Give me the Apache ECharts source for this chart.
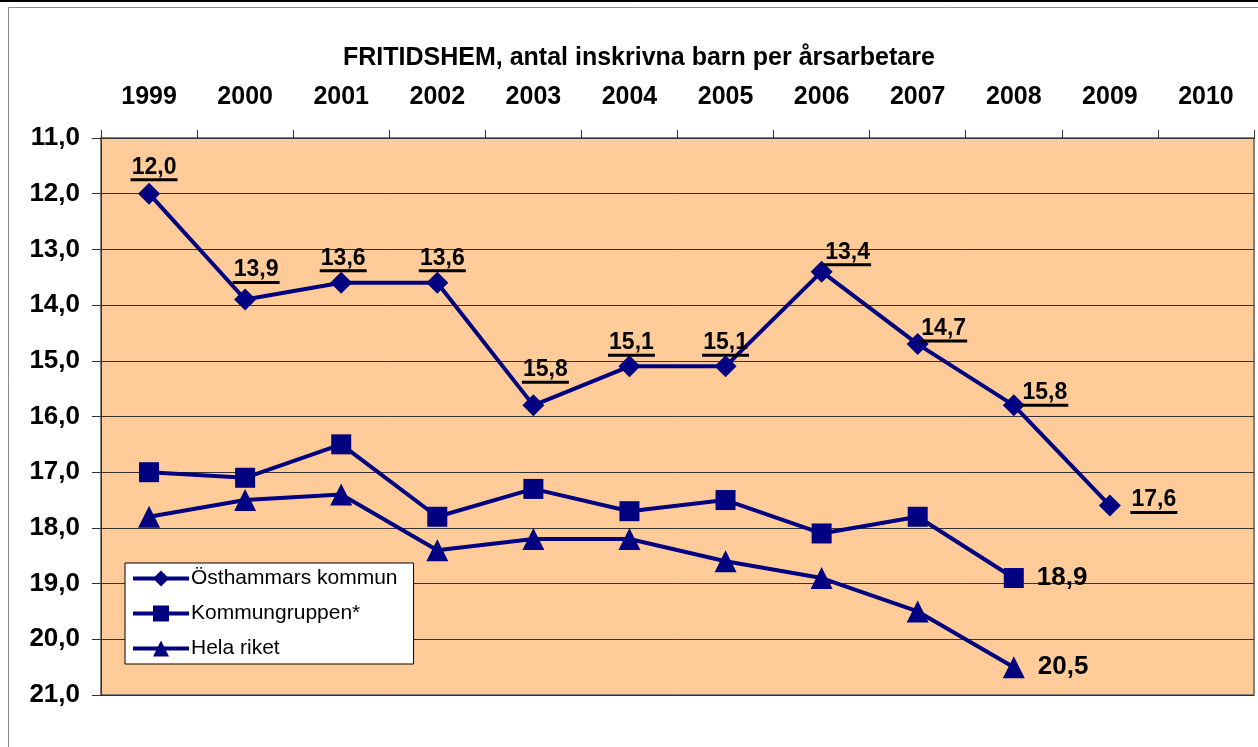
<!DOCTYPE html>
<html><head><meta charset="utf-8">
<script src="https://cdn.jsdelivr.net/npm/echarts@6/dist/echarts.min.js"></script>
<style>html,body{margin:0;padding:0;background:#fff}#c{width:1258px;height:747px}</style>
</head><body><div id="c"></div>
<script>
const titleText = 'FRITIDSHEM, antal inskrivna barn per årsarbetare';
const years = ['1999','2000','2001','2002','2003','2004','2005','2006','2007','2008','2009','2010'];
const seriesNames = ['Östhammars kommun','Kommungruppen*','Hela riket'];
const osthammar = [12.0, 13.9, 13.6, 13.6, 15.8, 15.1, 15.1, 13.4, 14.7, 15.8, 17.6, null];
const kommungruppen = [17.0, 17.1, 16.5, 17.8, 17.3, 17.7, 17.5, 18.1, 17.8, 18.9, null, null];
const helariket = [17.8, 17.5, 17.4, 18.4, 18.2, 18.2, 18.6, 18.9, 19.5, 20.5, null, null];
const yMin = 11, yMax = 21, yStep = 1;

// label placement offsets (layout only) for Östhammars labels
const labelOffsets = [[5,-25],[11,-28],[2,-23],[5,-23],[12,-34],[2,-22],[0,-22],[26,-18],[26,-14],[31,-11],[44,-4],[0,0]];

const fmt = v => v.toFixed(1).replace('.', ',');
const NAVY = '#000080';
const FONT = 'Liberation Sans, Arial, sans-serif';

const ostData = osthammar.map((v, i) => v == null ? null : {
  value: v,
  label: { show: true, position: 'inside', offset: labelOffsets[i],
    formatter: '{t|' + fmt(v) + '}\n{u| }',
    rich: {
      t: { fontFamily: FONT, fontWeight: 'bold', fontSize: 23, color: '#000', align: 'center', lineHeight: 22 },
      u: { width: 47, height: 3, lineHeight: 3, fontSize: 2, backgroundColor: '#000', align: 'center' }
    }
  }
});

function lastLabel(arr) {
  let last = -1; arr.forEach((v, i) => { if (v != null) last = i; });
  return arr.map((v, i) => v == null ? null : (i === last ? {
    value: v,
    label: { show: true, position: 'right', distance: 13, formatter: fmt(v),
      fontFamily: FONT, fontWeight: 'bold', fontSize: 26, color: '#000' }
  } : v));
}

const chart = echarts.init(document.getElementById('c'));
chart.setOption({
  animation: false,
  backgroundColor: '#fff',
  title: { text: titleText, left: 338, top: 41,
    textStyle: { fontFamily: FONT, fontWeight: 'bold', fontSize: 25, color: '#000' } },
  graphic: [
    { type: 'line', shape: { x1: 0, y1: 1, x2: 1258, y2: 1 }, style: { stroke: '#000', lineWidth: 2 } },
    { type: 'rect', shape: { x: 8.5, y: 7.5, width: 1300, height: 800 }, style: { fill: null, stroke: '#888', lineWidth: 1 } }
  ],
  grid: { left: 101, top: 138, right: 4, bottom: 52, show: true, backgroundColor: '#FFCC99', borderColor: '#808080', borderWidth: 2 },
  legend: {
    orient: 'vertical', left: 125, top: 563,
    backgroundColor: '#fff', borderColor: '#000', borderWidth: 1,
    padding: [5, 16, 5, 6], itemWidth: 56, itemHeight: 20, itemGap: 14,
    lineStyle: { width: 4 },
    textStyle: { fontFamily: FONT, fontSize: 21, color: '#000', padding: [0,0,0,-3] },
    data: seriesNames
  },
  xAxis: {
    type: 'category', position: 'top', data: years, boundaryGap: true,
    axisLine: { show: true, lineStyle: { color: '#333', width: 1 } },
    axisTick: { show: true, inside: false, length: 8, lineStyle: { color: '#333' } },
    axisLabel: { fontFamily: FONT, fontWeight: 'bold', fontSize: 25, color: '#000', margin: 28, interval: 0 },
    splitLine: { show: false }
  },
  yAxis: {
    type: 'value', inverse: true, min: yMin, max: yMax, interval: yStep,
    axisLine: { show: true, lineStyle: { color: '#333', width: 1 } },
    axisTick: { show: true, length: 9, lineStyle: { color: '#333' } },
    axisLabel: { fontFamily: FONT, fontWeight: 'bold', fontSize: 26, color: '#000', margin: 21, formatter: fmt },
    splitLine: { show: true, lineStyle: { color: '#333', width: 1 } }
  },
  series: [
    { name: seriesNames[0], type: 'line', data: ostData, symbol: 'diamond', symbolSize: 22,
      lineStyle: { color: NAVY, width: 4 }, itemStyle: { color: NAVY }, connectNulls: false },
    { name: seriesNames[1], type: 'line', data: lastLabel(kommungruppen), symbol: 'rect', symbolSize: 20,
      lineStyle: { color: NAVY, width: 4 }, itemStyle: { color: NAVY } },
    { name: seriesNames[2], type: 'line', data: lastLabel(helariket), symbol: 'triangle', symbolSize: 22,
      lineStyle: { color: NAVY, width: 4 }, itemStyle: { color: NAVY } }
  ]
});
</script></body></html>
